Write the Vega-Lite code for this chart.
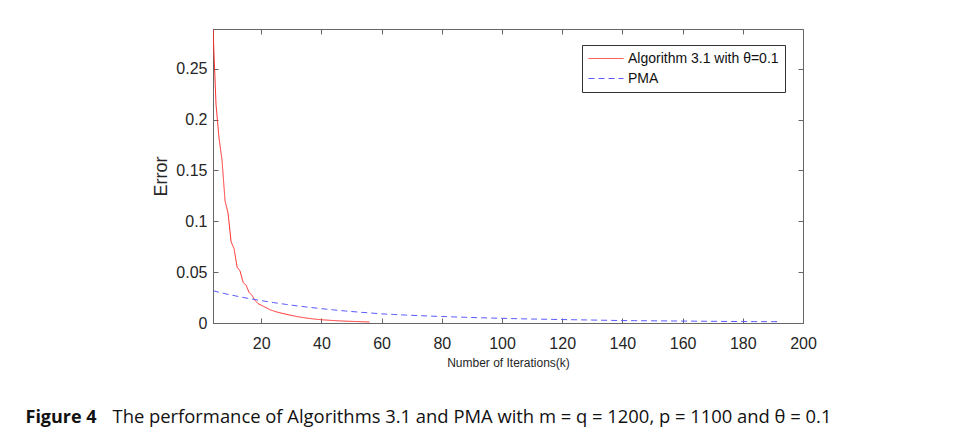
{
  "$schema": "https://vega.github.io/schema/vega-lite/v6.json",
  "width": 590,
  "height": 294,
  "autosize": {"type": "none"},
  "padding": {"left": 213, "top": 29, "right": 153, "bottom": 115},
  "background": "white",
  "config": {
    "view": {"stroke": "#666", "strokeWidth": 1},
    "axis": {
      "grid": false,
      "domainColor": "#666",
      "tickColor": "#666",
      "tickSize": -5,
      "labelFlush": false,
      "labelFont": "Liberation Sans",
      "labelFontSize": 16,
      "labelColor": "#262626",
      "titleFont": "Liberation Sans",
      "titleFontWeight": "normal",
      "titleColor": "#262626"
    },
    "legend": {
      "orient": "none",
      "legendX": 369,
      "legendY": 16,
      "strokeColor": "#333",
      "fillColor": "white",
      "padding": 6,
      "symbolType": "M-1,0H4",
      "symbolSize": 196,
      "symbolStrokeWidth": 1,
      "labelFont": "Liberation Sans",
      "labelFontSize": 14,
      "labelColor": "#111",
      "labelOffset": 25,
      "rowPadding": 5
    }
  },
  "data": {
    "values": [
      {"series": "Algorithm 3.1 with θ=0.1", "k": 4, "error": 0.289},
      {"series": "Algorithm 3.1 with θ=0.1", "k": 5, "error": 0.215},
      {"series": "Algorithm 3.1 with θ=0.1", "k": 6, "error": 0.182},
      {"series": "Algorithm 3.1 with θ=0.1", "k": 7, "error": 0.16},
      {"series": "Algorithm 3.1 with θ=0.1", "k": 8, "error": 0.12},
      {"series": "Algorithm 3.1 with θ=0.1", "k": 9, "error": 0.108},
      {"series": "Algorithm 3.1 with θ=0.1", "k": 10, "error": 0.08},
      {"series": "Algorithm 3.1 with θ=0.1", "k": 11, "error": 0.073},
      {"series": "Algorithm 3.1 with θ=0.1", "k": 12, "error": 0.055},
      {"series": "Algorithm 3.1 with θ=0.1", "k": 13, "error": 0.051},
      {"series": "Algorithm 3.1 with θ=0.1", "k": 14, "error": 0.04},
      {"series": "Algorithm 3.1 with θ=0.1", "k": 15, "error": 0.037},
      {"series": "Algorithm 3.1 with θ=0.1", "k": 16, "error": 0.03},
      {"series": "Algorithm 3.1 with θ=0.1", "k": 17, "error": 0.027},
      {"series": "Algorithm 3.1 with θ=0.1", "k": 18, "error": 0.022},
      {"series": "Algorithm 3.1 with θ=0.1", "k": 19, "error": 0.019},
      {"series": "Algorithm 3.1 with θ=0.1", "k": 20, "error": 0.0175},
      {"series": "Algorithm 3.1 with θ=0.1", "k": 21, "error": 0.016},
      {"series": "Algorithm 3.1 with θ=0.1", "k": 22, "error": 0.0145},
      {"series": "Algorithm 3.1 with θ=0.1", "k": 23, "error": 0.013},
      {"series": "Algorithm 3.1 with θ=0.1", "k": 24, "error": 0.012},
      {"series": "Algorithm 3.1 with θ=0.1", "k": 25, "error": 0.011},
      {"series": "Algorithm 3.1 with θ=0.1", "k": 26, "error": 0.0102},
      {"series": "Algorithm 3.1 with θ=0.1", "k": 27, "error": 0.0095},
      {"series": "Algorithm 3.1 with θ=0.1", "k": 28, "error": 0.0088},
      {"series": "Algorithm 3.1 with θ=0.1", "k": 29, "error": 0.0081},
      {"series": "Algorithm 3.1 with θ=0.1", "k": 30, "error": 0.0075},
      {"series": "Algorithm 3.1 with θ=0.1", "k": 31, "error": 0.0069},
      {"series": "Algorithm 3.1 with θ=0.1", "k": 32, "error": 0.0063},
      {"series": "Algorithm 3.1 with θ=0.1", "k": 33, "error": 0.0058},
      {"series": "Algorithm 3.1 with θ=0.1", "k": 34, "error": 0.0053},
      {"series": "Algorithm 3.1 with θ=0.1", "k": 35, "error": 0.0049},
      {"series": "Algorithm 3.1 with θ=0.1", "k": 36, "error": 0.0045},
      {"series": "Algorithm 3.1 with θ=0.1", "k": 37, "error": 0.0041},
      {"series": "Algorithm 3.1 with θ=0.1", "k": 38, "error": 0.0038},
      {"series": "Algorithm 3.1 with θ=0.1", "k": 39, "error": 0.0035},
      {"series": "Algorithm 3.1 with θ=0.1", "k": 40, "error": 0.0032},
      {"series": "Algorithm 3.1 with θ=0.1", "k": 42, "error": 0.0028},
      {"series": "Algorithm 3.1 with θ=0.1", "k": 44, "error": 0.0024},
      {"series": "Algorithm 3.1 with θ=0.1", "k": 46, "error": 0.0021},
      {"series": "Algorithm 3.1 with θ=0.1", "k": 48, "error": 0.0018},
      {"series": "Algorithm 3.1 with θ=0.1", "k": 50, "error": 0.0016},
      {"series": "Algorithm 3.1 with θ=0.1", "k": 52, "error": 0.0014},
      {"series": "Algorithm 3.1 with θ=0.1", "k": 54, "error": 0.0012},
      {"series": "Algorithm 3.1 with θ=0.1", "k": 56, "error": 0.001},
      {"series": "PMA", "k": 4, "error": 0.0317},
      {"series": "PMA", "k": 8, "error": 0.0288},
      {"series": "PMA", "k": 12, "error": 0.0263},
      {"series": "PMA", "k": 16, "error": 0.024},
      {"series": "PMA", "k": 20, "error": 0.022},
      {"series": "PMA", "k": 24, "error": 0.0201},
      {"series": "PMA", "k": 28, "error": 0.0184},
      {"series": "PMA", "k": 32, "error": 0.0168},
      {"series": "PMA", "k": 36, "error": 0.0154},
      {"series": "PMA", "k": 40, "error": 0.0141},
      {"series": "PMA", "k": 44, "error": 0.0129},
      {"series": "PMA", "k": 48, "error": 0.0118},
      {"series": "PMA", "k": 52, "error": 0.0108},
      {"series": "PMA", "k": 56, "error": 0.0099},
      {"series": "PMA", "k": 60, "error": 0.009},
      {"series": "PMA", "k": 64, "error": 0.0084},
      {"series": "PMA", "k": 68, "error": 0.0078},
      {"series": "PMA", "k": 72, "error": 0.0073},
      {"series": "PMA", "k": 76, "error": 0.0068},
      {"series": "PMA", "k": 80, "error": 0.0064},
      {"series": "PMA", "k": 84, "error": 0.006},
      {"series": "PMA", "k": 88, "error": 0.0056},
      {"series": "PMA", "k": 92, "error": 0.0052},
      {"series": "PMA", "k": 96, "error": 0.0049},
      {"series": "PMA", "k": 100, "error": 0.0046},
      {"series": "PMA", "k": 104, "error": 0.0043},
      {"series": "PMA", "k": 108, "error": 0.004},
      {"series": "PMA", "k": 112, "error": 0.0038},
      {"series": "PMA", "k": 116, "error": 0.0036},
      {"series": "PMA", "k": 120, "error": 0.0034},
      {"series": "PMA", "k": 124, "error": 0.0032},
      {"series": "PMA", "k": 128, "error": 0.003},
      {"series": "PMA", "k": 132, "error": 0.0028},
      {"series": "PMA", "k": 136, "error": 0.0026},
      {"series": "PMA", "k": 140, "error": 0.0024},
      {"series": "PMA", "k": 144, "error": 0.0023},
      {"series": "PMA", "k": 148, "error": 0.0022},
      {"series": "PMA", "k": 152, "error": 0.0021},
      {"series": "PMA", "k": 156, "error": 0.002},
      {"series": "PMA", "k": 160, "error": 0.0019},
      {"series": "PMA", "k": 164, "error": 0.0018},
      {"series": "PMA", "k": 168, "error": 0.0017},
      {"series": "PMA", "k": 172, "error": 0.0016},
      {"series": "PMA", "k": 176, "error": 0.0015},
      {"series": "PMA", "k": 180, "error": 0.0014},
      {"series": "PMA", "k": 184, "error": 0.0014},
      {"series": "PMA", "k": 188, "error": 0.0013},
      {"series": "PMA", "k": 192, "error": 0.0013}
    ]
  },
  "resolve": {"axis": {"x": "independent", "y": "independent"}},
  "layer": [
    {
      "transform": [{"filter": "datum.series !== 'PMA'"}],
      "mark": {"type": "line", "strokeWidth": 1, "clip": true},
      "encoding": {
        "x": {
          "field": "k", "type": "quantitative",
          "scale": {"domain": [4, 200], "nice": false, "zero": false},
          "axis": {"values": [20, 40, 60, 80, 100, 120, 140, 160, 180, 200], "title": "Number of Iterations(k)", "titleFontSize": 12, "labelPadding": 17, "titlePadding": 6}
        },
        "y": {
          "field": "error", "type": "quantitative",
          "scale": {"domain": [0, 0.289], "nice": false},
          "axis": {"values": [0, 0.05, 0.1, 0.15, 0.2, 0.25], "format": "~g", "title": "Error", "titleFontSize": 18, "labelPadding": 11, "titlePadding": 5}
        },
        "color": {
          "field": "series", "type": "nominal",
          "scale": {"domain": ["Algorithm 3.1 with θ=0.1", "PMA"], "range": ["#ff2a2a", "#5a5aff"]},
          "legend": {"title": null}
        },
        "strokeDash": {
          "field": "series", "type": "nominal",
          "scale": {"domain": ["Algorithm 3.1 with θ=0.1", "PMA"], "range": [[1, 0], [6, 4]]},
          "legend": {"title": null}
        }
      }
    },
    {
      "transform": [{"filter": "datum.series === 'PMA'"}],
      "mark": {"type": "line", "strokeWidth": 1, "clip": true},
      "encoding": {
        "x": {
          "field": "k", "type": "quantitative",
          "axis": {
            "orient": "top", "values": [20, 40, 60, 80, 100, 120, 140, 160, 180, 200], "labels": false, "domain": false,
            "title": "The performance of Algorithms 3.1 and PMA with m = q = 1200, p = 1100 and θ = 0.1",
            "titleFont": "Open Sans", "titleFontSize": 18.4, "titleFontWeight": "normal", "titleColor": "#111",
            "titleAngle": 0, "titleAlign": "left", "titleBaseline": "alphabetic",
            "titleX": -101, "titleY": 393
          }
        },
        "y": {
          "field": "error", "type": "quantitative",
          "axis": {
            "orient": "right", "values": [0, 0.05, 0.1, 0.15, 0.2, 0.25], "labels": false, "domain": false,
            "title": "Figure 4",
            "titleFont": "Open Sans", "titleFontSize": 18, "titleFontWeight": "bold", "titleColor": "#111",
            "titleAngle": 0, "titleAlign": "left", "titleBaseline": "alphabetic",
            "titleX": -778, "titleY": 393
          }
        },
        "color": {"field": "series", "type": "nominal", "legend": {"title": null}},
        "strokeDash": {"field": "series", "type": "nominal", "legend": {"title": null}}
      }
    }
  ]
}
